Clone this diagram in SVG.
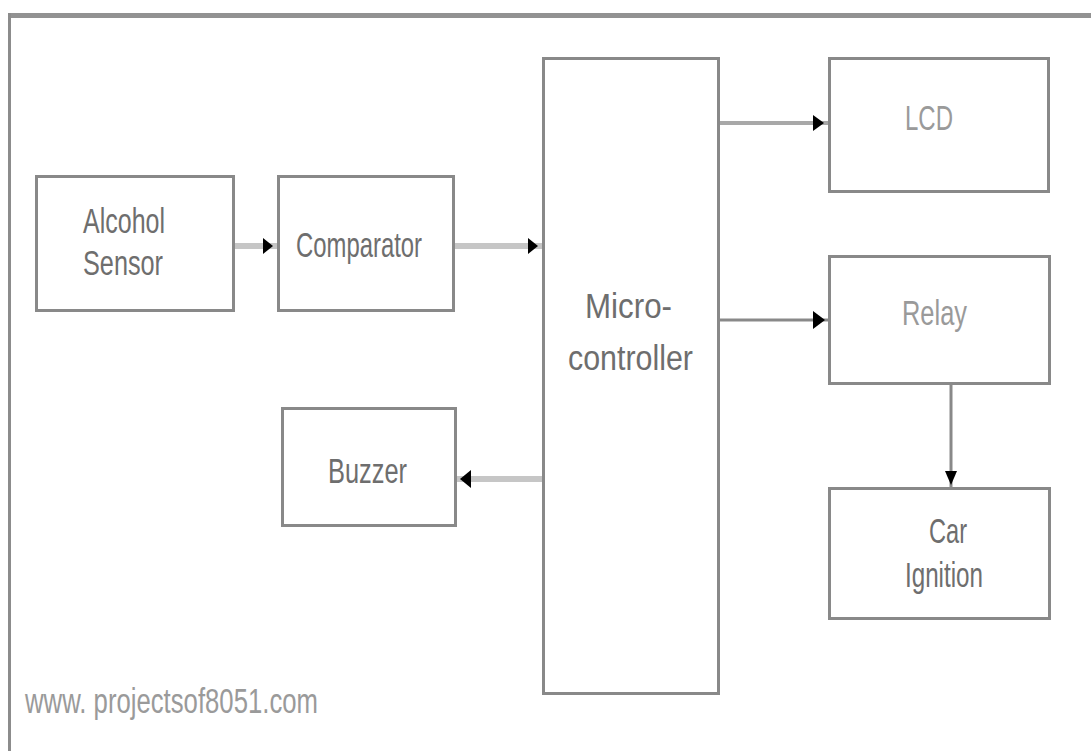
<svg xmlns="http://www.w3.org/2000/svg" width="1091" height="751" viewBox="0 0 1091 751">
  <style>
    .box { fill: #ffffff; stroke: #898989; stroke-width: 3; }
    .lbl { font-family: "Liberation Sans", Arial, sans-serif; font-size: 35px; fill: #6e6e6e; }
    .light { fill: #9a9a9a; }
    .wire { fill: none; stroke: #898989; stroke-width: 3; }
    .bus { fill: none; stroke: #c6c6c6; stroke-width: 6; }
    .bus2 { fill: none; stroke: #a8a8a8; stroke-width: 4; }
    .head { fill: #000000; }
  </style>
  <rect x="0" y="0" width="1091" height="751" fill="#ffffff"/>

  <!-- outer frame (top and left edges) -->
  <g id="frame">
    <line x1="8" y1="15.5" x2="1091" y2="15.5" stroke="#929292" stroke-width="5"/>
    <line x1="9.5" y1="13" x2="9.5" y2="751" stroke="#8c8c8c" stroke-width="3"/>
  </g>

  <!-- connectors -->
  <g id="connectors">
    <line class="bus" x1="235" y1="246" x2="277" y2="246"/>
    <polygon class="head" points="263,238 273,246 263,254"/>

    <line class="bus" x1="455" y1="246" x2="542" y2="246"/>
    <polygon class="head" points="528,238 538,246 528,254"/>

    <line class="bus2" x1="720" y1="123" x2="828" y2="123"/>
    <polygon class="head" points="813,115 824,123 813,131"/>

    <line class="wire" x1="720" y1="320" x2="828" y2="320"/>
    <polygon class="head" points="813,311 825,320 813,329"/>

    <line class="wire" x1="951" y1="385" x2="951" y2="487"/>
    <polygon class="head" points="945,471 957,471 951,485"/>

    <line class="bus" x1="542" y1="479" x2="457" y2="479"/>
    <polygon class="head" points="471,470 460,479 471,488"/>
  </g>

  <g id="alcohol-sensor">
    <rect class="box" x="36.5" y="176.5" width="197" height="134"/>
    <text class="lbl" x="83" y="233" textLength="82" lengthAdjust="spacingAndGlyphs">Alcohol</text>
    <text class="lbl" x="83" y="275" textLength="80" lengthAdjust="spacingAndGlyphs">Sensor</text>
  </g>

  <g id="comparator">
    <rect class="box" x="278.5" y="176.5" width="175" height="134"/>
    <text class="lbl" x="296" y="257" textLength="126" lengthAdjust="spacingAndGlyphs">Comparator</text>
  </g>

  <g id="microcontroller">
    <rect class="box" x="543.5" y="58.5" width="175" height="635"/>
    <text class="lbl" x="585" y="318" textLength="87" lengthAdjust="spacingAndGlyphs">Micro-</text>
    <text class="lbl" x="568" y="370" textLength="125" lengthAdjust="spacingAndGlyphs">controller</text>
  </g>

  <g id="lcd">
    <rect class="box" x="829.5" y="58.5" width="219" height="133"/>
    <text class="lbl light" x="905" y="130" textLength="48" lengthAdjust="spacingAndGlyphs">LCD</text>
  </g>

  <g id="relay">
    <rect class="box" x="829.5" y="256.5" width="220" height="127"/>
    <text class="lbl light" x="902" y="325" textLength="65" lengthAdjust="spacingAndGlyphs">Relay</text>
  </g>

  <g id="car-ignition">
    <rect class="box" x="829.5" y="488.5" width="220" height="130"/>
    <text class="lbl" x="929" y="543" textLength="38" lengthAdjust="spacingAndGlyphs">Car</text>
    <text class="lbl" x="905" y="587" textLength="78" lengthAdjust="spacingAndGlyphs">Ignition</text>
  </g>

  <g id="buzzer">
    <rect class="box" x="282.5" y="408.5" width="173" height="117"/>
    <text class="lbl" x="328" y="483" textLength="79" lengthAdjust="spacingAndGlyphs">Buzzer</text>
  </g>

  <text class="lbl light" x="25" y="713" textLength="293" lengthAdjust="spacingAndGlyphs">www. projectsof8051.com</text>
</svg>
